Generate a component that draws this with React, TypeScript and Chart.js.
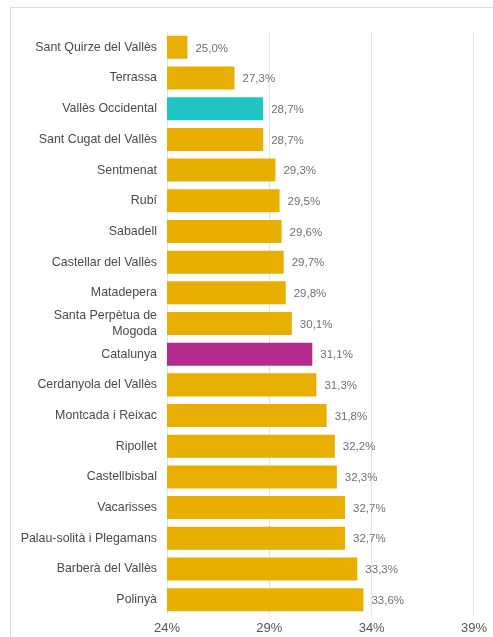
import React, { useEffect, useRef } from "react";
import { Chart, registerables } from "chart.js";

Chart.register(...registerables);

const categories: (string | string[])[] = [
  "Sant Quirze del Vallès",
  "Terrassa",
  "Vallès Occidental",
  "Sant Cugat del Vallès",
  "Sentmenat",
  "Rubí",
  "Sabadell",
  "Castellar del Vallès",
  "Matadepera",
  ["Santa Perpètua de", "Mogoda"],
  "Catalunya",
  "Cerdanyola del Vallès",
  "Montcada i Reixac",
  "Ripollet",
  "Castellbisbal",
  "Vacarisses",
  "Palau-solità i Plegamans",
  "Barberà del Vallès",
  "Polinyà",
];

const values: number[] = [
  25.0, 27.3, 28.7, 28.7, 29.3, 29.5, 29.6, 29.7, 29.8, 30.1, 31.1, 31.3, 31.8,
  32.2, 32.3, 32.7, 32.7, 33.3, 33.6,
];

const xMin = 24;
const xMax = 39;
const xStep = 5;

const GOLD = "#E8AE00";
const TEAL = "#1FC4C4";
const MAGENTA = "#B52A8C";

const barColors = categories.map((c) => {
  const name = Array.isArray(c) ? c.join(" ") : c;
  if (name === "Vallès Occidental") return TEAL;
  if (name === "Catalunya") return MAGENTA;
  return GOLD;
});

const fmt = (v: number) => v.toFixed(1).replace(".", ",") + "%";

const valueLabels = {
  id: "valueLabels",
  afterDatasetsDraw(chart: any) {
    const ctx = chart.ctx;
    const meta = chart.getDatasetMeta(0);
    ctx.save();
    ctx.font = "11.5px 'Liberation Sans', Arial, sans-serif";
    ctx.fillStyle = "#707070";
    ctx.textAlign = "left";
    ctx.textBaseline = "middle";
    meta.data.forEach((el: any, i: number) => {
      ctx.fillText(fmt(values[i]), el.x + 8, el.y + 1);
    });
    ctx.restore();
  },
};

export default function App() {
  const ref = useRef<HTMLCanvasElement | null>(null);

  useEffect(() => {
    if (!ref.current) return;
    const chart = new Chart(ref.current, {
      type: "bar",
      data: {
        labels: categories,
        datasets: [
          {
            data: values,
            backgroundColor: barColors,
            borderWidth: 0,
            barPercentage: 0.75,
            categoryPercentage: 1,
          },
        ],
      },
      options: {
        indexAxis: "y",
        responsive: false,
        animation: false,
        layout: { padding: { left: 0, right: 19, top: 32, bottom: 0 } },
        plugins: {
          legend: { display: false },
          tooltip: { enabled: false },
        },
        scales: {
          x: {
            min: xMin,
            max: xMax,
            border: { display: false },
            grid: { color: "#e4e4e4", lineWidth: 1, drawTicks: false },
            ticks: {
              stepSize: xStep,
              padding: 6,
              color: "#555",
              font: { family: "'Liberation Sans', Arial, sans-serif", size: 13 },
              callback: (v: any) => v + "%",
            },
            afterFit: (scale: any) => {
              scale.height = 22;
            },
          },
          y: {
            border: { display: false },
            grid: { display: false, drawTicks: false },
            ticks: {
              autoSkip: false,
              padding: 10,
              color: "#4a4a4a",
              font: { family: "'Liberation Sans', Arial, sans-serif", size: 12.4, lineHeight: 1.3 },
            },
            afterFit: (scale: any) => {
              scale.width = 167;
            },
          },
        },
      },
      plugins: [valueLabels],
    });
    return () => chart.destroy();
  }, []);

  return (
    <div style={{ position: "absolute", left: 0, top: 0, width: 493, height: 637, overflow: "hidden", background: "#fff" }}>
      <div
        style={{
          position: "absolute",
          left: 10,
          top: 7,
          width: 600,
          height: 700,
          border: "1px solid #dcdcdc",
          boxSizing: "border-box",
        }}
      />
      <canvas
        ref={ref}
        width={493}
        height={637}
        style={{ position: "absolute", left: 0, top: 0, width: 493, height: 637 }}
      />
    </div>
  );
}
